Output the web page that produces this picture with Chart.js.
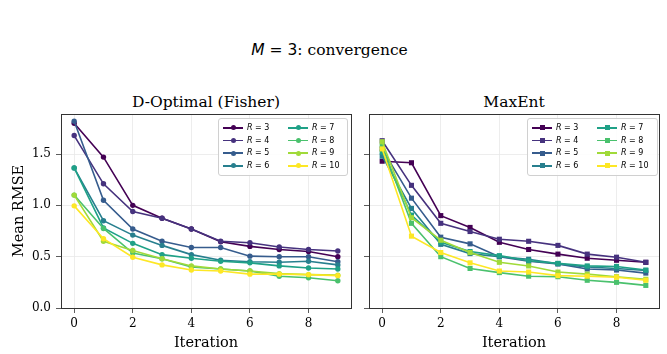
<!DOCTYPE html>
<html>
<head>
<meta charset="utf-8">
<script src="https://cdn.jsdelivr.net/npm/chart.js@4.4.1/dist/chart.umd.min.js"></script>
<style>
  body { margin: 0; background: #fff; }
  #wrap { position: relative; width: 667px; height: 354px; overflow: hidden; }
  canvas { position: absolute; }
  #supTitle { position: absolute; left: 0; width: 659px; top: 41px; text-align: center; line-height: 18px;
    font-family: "DejaVu Serif"; font-size: 15.5px; color: #000; }
  #supTitle .m { font-family: "DejaVu Sans"; }
  .subTitle { position: absolute; top: 93px; text-align: center; line-height: 18px;
    font-family: "DejaVu Serif"; font-size: 15.5px; color: #000; white-space: nowrap; }
  .legend { position: absolute; background: rgba(255,255,255,0.85); border: 1px solid #d0d0d0;
    border-radius: 3px; box-sizing: border-box; }
  .item { position: absolute; height: 10px; font-family: "DejaVu Sans"; font-size: 8px; color: #000; }
  .item .ln { position: absolute; top: 4px; height: 1.5px; }
  .item .mk { position: absolute; }
  .item .tx { position: absolute; top: 0; white-space: nowrap; line-height: 10px; }
</style>
</head>
<body>
<div id="wrap">
  <div id="supTitle"><span class="m"><i>M</i> = 3</span>: convergence</div>
  <div class="subTitle" style="left:61px;width:290px">D-Optimal (Fisher)</div>
  <div class="subTitle" style="left:369px;width:290px">MaxEnt</div>
  <canvas id="fisherChart" width="355" height="269" style="left:0;top:85px"></canvas>
  <canvas id="maxentChart" width="312" height="269" style="left:355px;top:85px"></canvas>
  <div id="fisherLegend" class="legend" style="left:218px;top:118px;width:130px;height:58px"></div>
  <div id="maxentLegend" class="legend" style="left:527px;top:118px;width:131px;height:58px"></div>
</div>
<script>
const iterations = [0, 1, 2, 3, 4, 5, 6, 7, 8, 9];
const rValues = [3, 4, 5, 6, 7, 8, 9, 10];
const colors = ["#440154", "#46327e", "#365c8d", "#277f8e", "#1fa187", "#4ac16d", "#a0da39", "#fde725"];
const yTicks = [0, 0.5, 1.0, 1.5];

// D-Optimal (Fisher), one row per R
const fisherRmse = [
  [1.80, 1.47, 1.00, 0.875, 0.77, 0.645, 0.60, 0.57, 0.55, 0.50],
  [1.68, 1.21, 0.94, 0.875, 0.77, 0.65, 0.635, 0.595, 0.57, 0.555],
  [1.82, 1.05, 0.77, 0.65, 0.59, 0.59, 0.505, 0.50, 0.50, 0.45],
  [1.365, 0.85, 0.71, 0.61, 0.52, 0.465, 0.45, 0.445, 0.455, 0.42],
  [1.365, 0.78, 0.63, 0.52, 0.485, 0.455, 0.44, 0.41, 0.39, 0.38],
  [1.10, 0.775, 0.535, 0.48, 0.40, 0.38, 0.36, 0.31, 0.295, 0.265],
  [1.10, 0.65, 0.56, 0.48, 0.41, 0.38, 0.36, 0.335, 0.325, 0.32],
  [0.995, 0.675, 0.495, 0.42, 0.37, 0.36, 0.33, 0.33, 0.325, 0.315]
];

// MaxEnt, one row per R
const maxentRmse = [
  [1.43, 1.415, 0.90, 0.785, 0.64, 0.57, 0.525, 0.485, 0.465, 0.445],
  [1.63, 1.195, 0.825, 0.745, 0.67, 0.65, 0.61, 0.525, 0.495, 0.445],
  [1.55, 1.07, 0.69, 0.625, 0.50, 0.455, 0.43, 0.38, 0.37, 0.34],
  [1.48, 0.97, 0.62, 0.53, 0.50, 0.475, 0.43, 0.40, 0.385, 0.365],
  [1.52, 0.905, 0.64, 0.55, 0.51, 0.46, 0.435, 0.41, 0.405, 0.37],
  [1.58, 0.825, 0.50, 0.385, 0.345, 0.31, 0.305, 0.27, 0.25, 0.22],
  [1.62, 0.88, 0.66, 0.54, 0.445, 0.41, 0.35, 0.33, 0.305, 0.28],
  [1.55, 0.70, 0.54, 0.44, 0.36, 0.35, 0.315, 0.31, 0.30, 0.27]
];

const frame = {
  id: "frame",
  afterDatasetsDraw(chart) {
    const a = chart.chartArea;
    const ctx = chart.ctx;
    ctx.save();
    ctx.strokeStyle = "#333";
    ctx.lineWidth = 1;
    ctx.strokeRect(Math.round(a.left) + 0.5, Math.round(a.top) + 0.5,
      Math.round(a.right - a.left), Math.round(a.bottom - a.top));
    ctx.restore();
  }
};

function makeChart(id, rows, pointStyle, radius, isLeft) {
  const datasets = rows.map((row, i) => ({
    label: "R = " + rValues[i],
    data: row.map((v, j) => ({ x: iterations[j], y: v })),
    borderColor: colors[i],
    backgroundColor: colors[i],
    borderWidth: 1.6,
    pointStyle: pointStyle,
    pointRadius: radius,
    pointBorderWidth: 0,
    order: -i
  }));
  return new Chart(document.getElementById(id), {
    type: "line",
    data: { datasets },
    plugins: [frame],
    options: {
      responsive: false,
      animation: false,
      devicePixelRatio: 1,
      layout: { padding: { top: 29, left: 0, right: isLeft ? 4 : 8, bottom: 0 } },
      plugins: {
        legend: { display: false },
        tooltip: { enabled: false }
      },
      scales: {
        x: {
          type: "linear", min: -0.45, max: 9.45,
          afterFit: s => { s.height = 46; },
          border: { display: false },
          grid: { color: "#e8e8e8", lineWidth: 0.8, tickLength: 5, tickColor: "#333", tickWidth: 0.8 },
          ticks: { stepSize: 2, includeBounds: false, color: "#000", padding: 4, maxRotation: 0,
            font: { family: "DejaVu Serif", size: 12 } },
          title: { display: true, text: "Iteration", color: "#000",
            font: { family: "DejaVu Serif", size: 14.5 }, padding: { top: 0, bottom: 2 } }
        },
        y: {
          type: "linear", min: 0, max: 1.89,
          afterFit: s => { s.width = isLeft ? 61 : 14; },
          afterBuildTicks: s => { s.ticks = yTicks.map(v => ({ value: v })); },
          border: { display: false },
          grid: { color: "#e8e8e8", lineWidth: 0.8, tickLength: 5, tickColor: "#333", tickWidth: 0.8 },
          ticks: { display: isLeft, color: "#000", padding: 5,
            callback: v => Number(v).toFixed(1),
            font: { family: "DejaVu Serif", size: 12 } },
          title: { display: isLeft, text: "Mean RMSE", color: "#000",
            font: { family: "DejaVu Serif", size: 14.5 }, padding: { top: 11, bottom: 0 } }
        }
      }
    }
  });
}

function buildLegend(id, square) {
  const box = document.getElementById(id);
  rValues.forEach((r, i) => {
    const col = Math.floor(i / 4), row = i % 4;
    const it = document.createElement("div");
    it.className = "item";
    it.style.left = (4 + col * 65) + "px";
    it.style.top = (4 + row * 12.7) + "px";
    const sz = 5;
    it.innerHTML =
      '<span class="ln" style="left:0;width:20px;background:' + colors[i] + '"></span>' +
      '<span class="mk" style="left:' + (10 - sz / 2) + 'px;top:' + (4.75 - sz / 2) + 'px;width:' + sz +
      'px;height:' + sz + 'px;background:' + colors[i] + ';border-radius:' + (square ? 0 : 50) + '%"></span>' +
      '<span class="tx" style="left:24px"><i>R</i> = ' + r + '</span>';
    box.appendChild(it);
  });
}

makeChart("fisherChart", fisherRmse, "circle", 2.7, true);
makeChart("maxentChart", maxentRmse, "rect", 3.6, false);
buildLegend("fisherLegend", false);
buildLegend("maxentLegend", true);
</script>
</body>
</html>
